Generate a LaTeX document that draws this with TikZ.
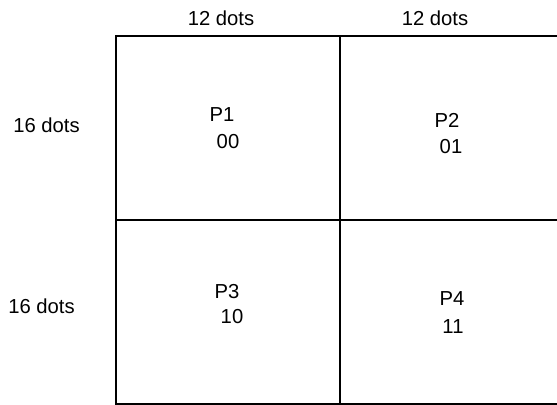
\documentclass[tikz,border=0pt]{standalone}
\usepackage{fontspec}
\setmainfont{Liberation Sans}
\usetikzlibrary{positioning}

\begin{document}
\begin{tikzpicture}[x=0.025cm, y=-0.025cm,
    cell/.style={rectangle, draw=black, line width=1.5pt, minimum width=5.6cm, minimum height=4.6cm, inner sep=0pt},
    dots/.style={font=\fontsize{14.4}{17}\selectfont, inner sep=0pt},
    tag/.style={font=\fontsize{14.4}{17}\selectfont, inner sep=0pt}
]
\useasboundingbox (0,0) rectangle (557,404);
\clip (0,0) rectangle (557,404);

% Cells
\node[cell] (c1) at (228,128) {};
\node[cell] (c2) at (452,128) {};
\node[cell] (c3) at (228,312) {};
\node[cell] (c4) at (452,312) {};

% Sizes
\node[dots] (w1) at (221,18) {12 dots};
\node[dots] (w2) at (435,18) {12 dots};
\node[dots] (h1) at (46.5,125) {16 dots};
\node[dots] (h2) at (41.5,306.5) {16 dots};

% Names and codes
\node[tag] (n1) at (222,115) {P1};
\node[tag] (k1) at (228,142) {00};
\node[tag] (n2) at (447,120) {P2};
\node[tag] (k2) at (451,147) {01};
\node[tag] (n3) at (227,292) {P3};
\node[tag] (k3) at (232,317) {10};
\node[tag] (n4) at (452,299) {P4};
\node[tag] (k4) at (453,327) {11};

\end{tikzpicture}
\end{document}
